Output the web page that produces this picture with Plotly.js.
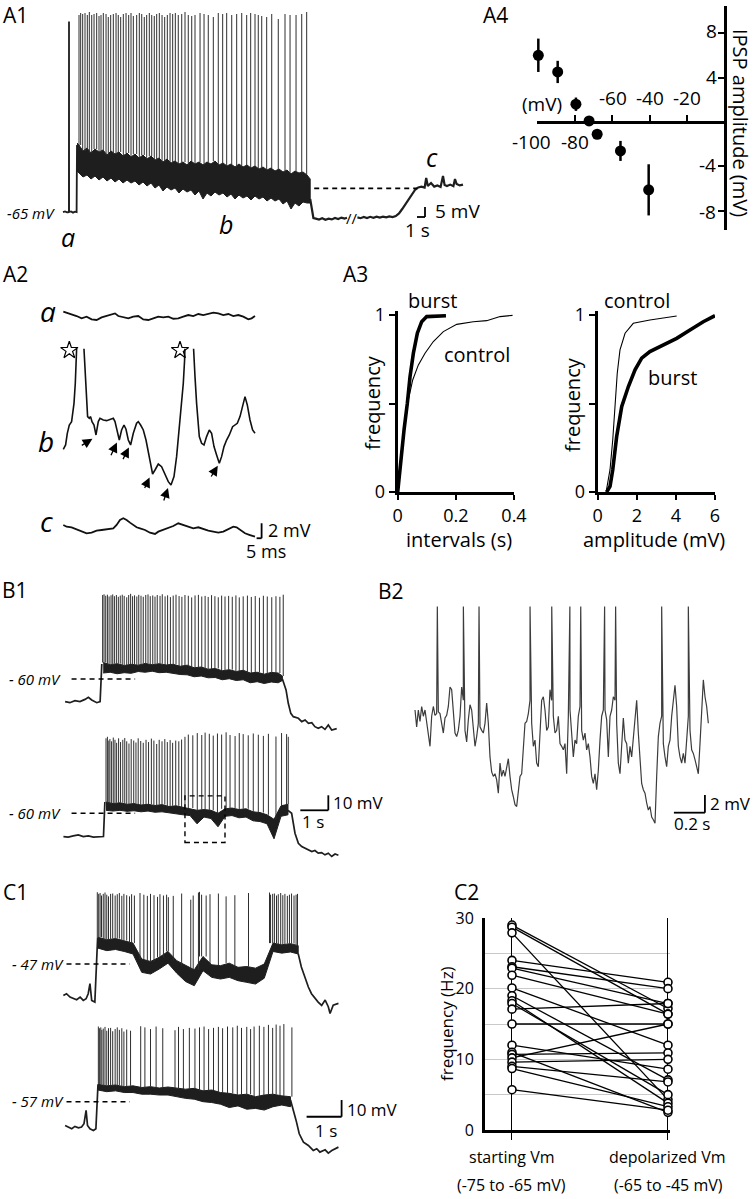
<!DOCTYPE html>
<html><head><meta charset="utf-8">
<script src="https://cdn.plot.ly/plotly-3.0.1.min.js"></script>
<style>html,body{margin:0;padding:0;background:#fff}</style>
</head><body><div id="fig" style="width:753px;height:1199px"></div>
<script>
// ================= DATA =================
// A1: whole-cell trace (time s, Vm mV)
const a1PreT=[0,0.25,0.5,0.74,0.75,0.76,1.0,1.25,1.5,1.7,1.75];
const a1PreV=[-64.6,-64.2,-64.7,-64.5,30.7,-64.5,-64.2,-64.8,-64.3,-64.5,-31];
const a1BandT=[1.75,2.0,2.5,3.0,3.5,4.0,4.5,5.0,5.5,6.0,6.5,7.0,7.5,8.0,8.5,9.0,9.5,10.0,10.5,11.0,11.5,12.0,12.5,13.0,13.5,14.0,14.5,15.0,15.5,16.0,16.5,17.0,17.5,18.0,18.5,19.0,19.5,20.0,20.5,21.0,21.5,22.0,22.5,23.0,23.5,24.0,24.5,25.0,25.5,26.0,26.5,27.0,27.5,28.0,28.5,29.0,29.5,30.0,30.5,30.9];
const a1BandUp=[-30,-31,-34,-32.5,-35,-33,-34.5,-33.5,-36,-34,-35.5,-34.5,-36.5,-35,-37,-35.5,-37.5,-36,-38,-36.5,-38.5,-37.5,-39.5,-38,-40,-39,-40.5,-39.5,-41,-39,-40.5,-39.5,-41,-39.5,-40.5,-39,-41,-40,-41.5,-40.5,-42,-40.5,-42,-41,-42.5,-41.5,-43,-42,-43.5,-42.5,-44,-43,-44.5,-43.5,-45.5,-44,-45,-44.5,-46,-48];
const a1BandLo=[-44,-45,-47,-46,-48,-46.5,-48.5,-47,-49,-47.5,-49.5,-48,-50,-48.5,-50,-49,-51,-49.5,-51.5,-50,-52.5,-51,-54,-52,-53.5,-52.5,-55,-53,-54.5,-53.5,-56,-54,-58,-55,-56.5,-54.5,-56,-55,-57,-55.5,-58,-56,-57.5,-56.5,-58.5,-56.5,-58,-57,-59,-57.5,-59,-58,-60.5,-59,-63,-60,-61.5,-59.5,-60,-60];
const a1PostT=[30.9,31.1,31.3,31.6,32.0,32.4,32.8,33.2,33.6,34.0,34.4,34.8,35.2,35.5,null,36.8,37.2,37.6,38.0,38.4,38.8,39.2,39.6,40.0,40.4,40.8,41.2,41.6,42.0,42.4,42.8,43.2,43.6,44.0,44.4,44.8,45.2,45.4,45.6,46.0,46.4,46.8,47.2,47.5,47.7,48.0,48.4,48.8,49.0,49.2,49.6,50.0];
const a1PostV=[-58,-64,-67.5,-67.8,-68.3,-67.6,-68.4,-67.8,-68.2,-67.5,-68,-67.3,-67.8,-67.4,null,-67.2,-67.6,-67,-67.5,-66.9,-67.4,-66.8,-67.3,-66.8,-67.2,-66.7,-67,-66.5,-65.2,-63,-60.5,-58,-55.5,-53.5,-52.2,-51.8,-52.3,-47.5,-51.5,-50,-51.8,-51.2,-52,-46.5,-51,-51.5,-50.8,-51.6,-48,-50.5,-51.2,-50.8];
const a1SpikeT=[2.0,2.21,2.46,2.75,3.04,3.29,3.59,3.88,4.21,4.5,4.75,5.04,5.38,5.66,5.96,6.29,6.63,6.91,7.21,7.54,7.88,8.21,8.5,8.79,9.21,9.54,9.84,10.16,10.46,10.79,11.09,11.41,11.71,12.04,12.38,12.71,13.04,13.38,13.71,14.04,14.41,14.84,15.25,15.66,16.09,16.5,17.13,17.63,18.16,18.79,19.41,19.96,20.46,21.09,21.71,22.34,22.96,23.46,24.0,24.41,24.84,25.46,26.09,26.91,27.75,28.38,29.13,29.84,30.46];
const a1SpikePk=[34,35,34.5,35,34,35.5,34,34.5,35,33.5,34,35,34.5,33,34,34.5,35,34,33,34.5,35,34,35,33.5,34,35,34.5,33,34,35,34,33.5,34.5,35,34,33,34,35,34.5,35,34,34.5,35.5,34,33.5,34,35,34.5,34,33,35,34.5,35,34,34.5,35,34,35,34.5,34,33.5,33,34.5,32,34.5,34,34,34.5,35.5];
const a1Dashed=-52.7;

// A4: IPSP amplitude vs holding potential
const a4Vm=[-99.3,-89,-79.3,-72.3,-68,-55.6,-40.6];
const a4Amp=[6.0,4.5,1.6,0.1,-1.1,-2.6,-6.1];
const a4Err=[1.5,1.0,0.6,0.3,0.4,0.9,2.3];
const a4XTicks=[-100,-80,-60,-40,-20];
const a4YTicks=[-8,-4,4,8];

// A2: expanded traces (time ms, mV relative)
const a2aT=[0,3.3,8.3,13.3,18.3,23.3,28.3,33.3,38.3,43.3,48.3,51.7,55,60,65,70,75,80,85,90,95,100,105,110,115,120,125,130,135,140,145,150,155,160,165,170,175,180,185,188.3,191.7];
const a2aV=[0.67,0.53,0.36,0.09,-0.22,0,-0.36,-0.44,-0.09,0.09,0.22,0.44,0.09,-0.09,-0.22,0,0.09,-0.36,-0.44,-0.22,0,-0.09,0,-0.27,-0.22,0,0.22,0.09,0.36,0.22,0.36,0.53,0.44,0.22,0.36,0.09,0.22,0,-0.36,-0.22,0.09];
const a2bT=[0,2.3,4,6,8.3,10.7,12,13.3,14.3,19.3,20.7,22.7,24.3,26,27.3,28.7,30.7,32.7,35,36.7,40,43.3,46.7,50,51.7,54,56,58.3,60.7,62.7,65,67.3,70,73.3,75,77.3,80,82.7,85,87.3,89.3,91.7,95,98.3,101.7,105,107.7,110.7,113.3,116,118.3,120,121.3,122.3,129,130,131.7,133.3,136,138.3,140.7,143.3,146,148.3,150.7,153.3,156,158.3,160.7,163.3,166,169.3,171.7,174,176.7,179.3,181.7,184,186.7,189.3,191.7];
const a2bV=[0,0.58,2.13,3.24,3.69,6.13,8.8,12.36,16.8,16.8,13.24,7.91,4.36,4.13,4.36,3.69,3.24,1.91,3.69,4.13,3.91,3.82,4.0,4.13,3.69,2.13,1.24,2.58,3.24,2.67,1.24,0.58,2.13,3.47,3.69,3.24,2.58,1.24,-0.53,-2.31,-3.29,-2.76,-1.96,-2.31,-3.42,-4.31,-4.76,-3.64,-0.98,2.58,5.69,8.8,11.91,16.8,16.8,13.24,9.69,6.13,1.69,0.8,0.58,1.69,2.58,2.13,0.36,-0.76,-1.87,-0.98,0.36,1.24,1.91,3.02,3.24,3.47,4.36,5.69,7.02,5.91,3.91,2.58,2.13];
const a2cT=[0,3.3,8.3,13.3,18.3,23.3,28.3,33.3,38.3,43.3,50,53.3,56.7,60,63.3,66.7,70,73.3,76.7,81.7,86.7,91.7,95,100,105,110,115,120,125,130,135,140,145,150,155,160,165,170,173.3,176.7,181.7,186.7,191.7];
const a2cV=[0.67,0.44,0.36,0.09,-0.22,-0.44,-0.36,-0.09,0,0.09,0.22,0.67,1.33,1.56,1.33,0.98,0.67,0.36,0.22,0,-0.36,-0.53,-0.22,0,0.31,0.53,0.89,0.67,0.44,0.22,0.36,0.09,-0.09,-0.22,-0.36,-0.22,0.09,0.44,0.36,0,-0.44,-0.67,-0.89];
const a2StarT=[6,116.7];
const a2StarV=[13.2,13.2];
const a2ArrowT=[30,54,66,86.7,105,155];
const a2ArrowV=[1.47,1.02,0.36,-3.64,-5.02,-2.09];

// A3: cumulative distributions
const a3IntBurstX=[0,0.0115,0.0218,0.0332,0.0424,0.0539,0.0676,0.0825,0.0997,0.166];
const a3IntBurstY=[0,0.201,0.351,0.502,0.652,0.784,0.897,0.962,0.991,0.996];
const a3IntCtrlX=[0,0.0138,0.0252,0.0367,0.0516,0.0711,0.094,0.1226,0.157,0.203,0.260,0.306,0.352,0.395];
const a3IntCtrlY=[0,0.239,0.389,0.521,0.633,0.718,0.784,0.850,0.906,0.947,0.962,0.968,0.991,0.998];
const a3AmpCtrlX=[0.43,0.63,0.77,0.89,1.0,1.14,1.40,1.82,2.67,4.04];
const a3AmpCtrlY=[0,0.126,0.295,0.483,0.671,0.803,0.897,0.953,0.972,0.994];
const a3AmpBurstX=[0.46,0.63,0.77,0.97,1.23,1.57,1.91,2.25,2.67,3.36,4.04,4.72,5.40,6.0];
const a3AmpBurstY=[0,0.032,0.126,0.314,0.483,0.596,0.690,0.756,0.793,0.831,0.868,0.915,0.962,0.996];

// B1: two traces (time s, mV)
const b1aPreT=[0.04,0.21,0.39,0.57,0.75,0.87,0.99,1.17,1.29,1.35];
const b1aPreV=[-75.1,-75.8,-74.4,-75.1,-73.6,-72.2,-74,-75.8,-75.1,-50];
const b1aBandT=[1.4,1.65,1.9,2.15,2.4,2.65,2.9,3.15,3.4,3.65,3.9,4.15,4.4,4.65,4.9,5.15,5.4,5.65,5.9,6.15,6.4,6.65,6.9,7.15,7.4,7.65,7.8];
const b1aBandUp=[-49,-50.5,-49.8,-51,-50.2,-50.8,-49.6,-50.5,-49.8,-50.6,-50.2,-51.5,-50.8,-52.5,-52,-53.5,-53,-54.5,-53.8,-55,-54.2,-56,-55.5,-56.8,-55.6,-56,-58];
const b1aBandLo=[-56,-55.5,-56.5,-55.8,-56.2,-55,-55.5,-54.8,-55.8,-55.5,-56.5,-57,-57.2,-58.5,-58,-59.2,-59,-60.5,-59.8,-61,-60.5,-62.5,-61.8,-63,-62,-62.5,-61];
const b1aPostT=[7.8,7.93,8.01,8.1,8.19,8.37,8.49,8.61,8.73,8.85,8.96,9.08,9.2,9.32,9.44,9.56,9.74];
const b1aPostV=[-60,-67.3,-76.2,-82.9,-85.1,-86.2,-88.4,-87.3,-89.6,-89.1,-91.8,-92.9,-91.8,-93.6,-90.7,-94,-93.1];
const b1aSpikeT=[1.38,1.43,1.49,1.55,1.61,1.68,1.74,1.80,1.87,1.94,2.01,2.08,2.15,2.24,2.31,2.38,2.45,2.52,2.60,2.67,2.75,2.83,2.92,3.0,3.08,3.17,3.25,3.33,3.43,3.51,3.61,3.70,3.80,3.90,4.0,4.11,4.21,4.32,4.44,4.56,4.68,4.80,4.92,5.04,5.15,5.27,5.39,5.51,5.63,5.75,5.88,6.01,6.14,6.26,6.40,6.55,6.69,6.83,6.98,7.12,7.26,7.42,7.57,7.71,7.83];
const b1aSpikePk=[-4,-3.5,-4.5,-3.8,-5,-4.2,-3.6,-4.8,-4,-5.2,-4.4,-3.8,-4.6,-5.5,-4,-3.2,-4.8,-4.2,-5,-3.9,-4.5,-5.2,-4,-3.6,-4.8,-4.3,-5.1,-4,-4.6,-3.5,-4.9,-4.2,-5.4,-4.4,-3.8,-4.7,-5.2,-4,-4.5,-5.6,-4.3,-3.9,-5,-4.6,-5.3,-4.1,-4.8,-5.5,-4.4,-5,-4.6,-5.2,-4.3,-5.6,-4.9,-4.4,-5.3,-4.7,-5.8,-4.5,-5,-5.5,-4.8,-5.2,-3.8];
const b1bPreT=[-0.02,0.15,0.33,0.51,0.69,0.87,1.05,1.23,1.41,1.46];
const b1bPreV=[-75.5,-75.9,-75.1,-74.4,-75.5,-75.1,-75.9,-75.5,-75.5,-52.5];
const b1bBandT=[1.5,1.75,2.0,2.25,2.5,2.75,3.0,3.25,3.5,3.75,4.0,4.25,4.5,4.75,5.0,5.25,5.5,5.75,6.0,6.25,6.5,6.75,7.0,7.25,7.5,7.75,8.0];
const b1bBandUp=[-52.5,-53.5,-53,-54,-53.5,-54.5,-54,-54.8,-54.2,-55.5,-55,-56,-56.5,-58,-57.5,-58,-60,-57,-56.5,-57.5,-57,-59,-59.5,-61,-64,-55,-54];
const b1bBandLo=[-58,-58.5,-58,-58.7,-58.3,-59,-58.5,-59.3,-59,-60,-60.3,-61,-61.5,-67,-62.5,-63.5,-69,-62,-61.5,-63,-62.5,-65,-65.5,-67,-77,-62,-61];
const b1bPostT=[8.0,8.13,8.25,8.37,8.49,8.61,8.73,8.85,8.96,9.08,9.2,9.32,9.44,9.56,9.68,9.8];
const b1bPostV=[-58,-60,-73.3,-80,-82.2,-83.3,-84.4,-85.5,-84.8,-86.6,-86.2,-87.7,-86.6,-88.8,-87.1,-88];
const b1bSpikeT=[1.5,1.55,1.6,1.64,1.70,1.76,1.82,1.88,1.95,2.02,2.10,2.17,2.24,2.32,2.40,2.49,2.57,2.65,2.74,2.83,2.93,3.02,3.12,3.21,3.31,3.40,3.50,3.60,3.69,3.79,3.88,3.99,4.10,4.20,4.32,4.44,4.60,4.76,4.92,5.04,5.19,5.33,5.48,5.63,5.79,5.93,6.11,6.26,6.40,6.58,6.76,6.94,7.12,7.30,7.57,7.77,7.95,8.01];
const b1bSpikePk=[-10,-9,-11.5,-10.5,-12,-9.5,-11,-13,-10,-12.5,-11,-9.8,-12,-13.5,-10.5,-11.5,-12.8,-10,-11.8,-13,-11,-12.5,-10.2,-11.5,-13.8,-11,-12,-10.5,-12.5,-11.2,-13,-11.5,-12,-10.8,-9,-7.5,-8,-6.5,-7.8,-6.2,-7,-8.2,-6.8,-7.5,-6,-7.8,-8.5,-6.5,-7.2,-8,-6.8,-7.6,-8.4,-7,-8.8,-6.5,-7.2,-9];
const b1Rest=-60;
const b1Box={t0:4.32,t1:5.75,v0:-79.5,v1:-48.4};

// B2: expanded segment (samples every 10.75 ms, mV relative)
const b2Dt=10.75;
const b2V=[1.5,-0.4,1.5,0.2,1.9,0.8,1.5,0,-1.5,-2.6,
0.8,1.9,0.9,1.1,1.3,1.1,0,-1.1,0.6,0.9,
1.9,4.1,3.8,1.1,-1.1,-1.5,-0.8,0.8,4.1,2.6,
-0.8,-2.1,0.4,2.1,1.5,-0.4,-2.6,-1.5,0,-0.4,
-0.8,-1.1,0,2.3,0,-3.8,-5.5,-6.0,-5.7,-6.4,
-7.9,-4.5,-6.0,-5.3,-6.0,-4.9,-4.0,-6.0,-7.5,-8.3,
-9.2,-9.4,-7.5,-6.0,-5.7,-3.0,0,0.2,1.1,2.6,
0,-2.6,-1.9,-4.5,-4.9,-1.1,2.6,3.0,1.5,-0.8,
-0.4,3.8,2.6,0.8,-1.1,-0.8,0.8,-2.3,-2.6,-3.0,
-2.3,-5.7,0.8,1.5,-0.8,-3.8,-1.9,-2.3,0.8,1.9,
-0.8,-1.9,-1.1,-3.0,-2.3,-3.8,-6.0,-6.8,-5.7,-7.5,
-5.3,-1.9,0.8,1.5,1.5,0.4,-3.8,0.8,1.5,3.0,
2.6,0,-4.5,-5.7,-2.3,0.6,-1.9,-2.3,-4.5,-2.6,
-3.8,-1.9,0,2.6,-1.1,-4.5,-6.8,-7.5,-7.9,-9.0,
-9.8,-9.4,-10.6,-10.9,-11.3,-6.0,-1.5,0,0.8,-2.3,
-3.8,-4.9,-2.6,-1.9,0.8,3.0,4.3,1.9,-2.6,-3.8,
-4.5,-3.4,-4.5,-1.9,0.8,-0.8,-3.0,-3.4,-4.1,-4.9,
-5.7,-2.3,2.3,4.9,3.0,1.9,0];
const b2SpikeT=[144,312,413,742,882,999,1069,1223,1294,1591,1763];
const b2SpikePk=[13.2,13.2,13.2,13.2,13.2,13.2,13.2,13.2,13.2,13.2,13.2];

// C1: two traces (time s, mV)
const c1aPreT=[0.01,0.10,0.2,0.3,0.39,0.49,0.58,0.66,0.72,0.77,0.82,0.91,0.96,0.99];
const c1aPreV=[-65.8,-64.8,-66.8,-67.8,-68.4,-66.8,-68.8,-67.8,-64.8,-58.8,-68.8,-69.8,-50,-31];
const c1aBandT=[1.0,1.25,1.5,1.75,2.0,2.25,2.5,2.75,3.0,3.25,3.5,3.75,4.0,4.25,4.5,4.75,5.0,5.25,5.5,5.75,6.0,6.25,6.5,6.72];
const c1aBandUp=[-31,-32.5,-31.8,-33,-34.5,-44,-45.5,-43,-39.5,-45,-48,-50.5,-42.5,-47.5,-48,-46.5,-49,-48.5,-49.5,-47,-34.5,-35.5,-34.8,-36];
const c1aBandLo=[-37.5,-39,-38.3,-39.5,-41,-52,-53,-50,-46.5,-52.5,-57.5,-60,-51,-55,-56,-55,-57,-58,-59,-55.5,-39.5,-40.5,-39.8,-41];
const c1aPostT=[6.72,6.81,6.91,7.01,7.1,7.2,7.29,7.39,7.49,7.58,7.63,7.72,7.87];
const c1aPostV=[-40.8,-48.8,-54.8,-60.8,-64.8,-67.8,-69.8,-71.8,-68.6,-72.6,-76.6,-71.6,-70.6];
const c1aSpikeT=[0.98,1.02,1.06,1.10,1.15,1.2,1.25,1.30,1.36,1.42,1.49,1.55,1.61,1.68,1.74,1.82,1.90,1.96,2.04,2.2,2.31,2.41,2.5,2.6,2.7,2.77,2.87,2.96,3.01,3.15,3.39,3.65,3.72,3.87,3.9,3.96,4.09,4.2,4.44,4.66,4.91,5.3,5.9,5.93,5.99,6.04,6.1,6.15,6.22,6.28,6.34,6.41,6.47,6.53,6.6,6.66,6.7];
const c1aSpikePk=[-4,-5,-4.5,-6,-5,-4.2,-5.5,-6.5,-5,-4.8,-6,-5.2,-4.5,-6.2,-5,-5.8,-6.5,-5.2,-6,-4.5,-5.5,-6.2,-5,-5.8,-6.8,-5.2,-6,-5.5,-7,-6.2,-4.8,-8.5,-6,-4.2,-3.8,-5.5,-6,-5.2,-4.8,-6.5,-5.8,-4.5,-4.2,-5.5,-5,-4.8,-6,-5.2,-4.5,-5.8,-5,-6.2,-5.5,-4.8,-6,-5.5,-5];
const c1bPreT=[0.06,0.15,0.25,0.34,0.44,0.53,0.6,0.66,0.7,0.77,0.87,0.94,0.98,1.0];
const c1bPreV=[-71.2,-72.2,-73.2,-71.8,-72.6,-72.2,-70.2,-62.2,-71.2,-73.2,-74.2,-73.2,-52,-46.5];
const c1bBandT=[1.0,1.25,1.5,1.75,2.0,2.25,2.5,2.75,3.0,3.25,3.5,3.75,4.0,4.25,4.5,4.75,5.0,5.25,5.5,5.75,6.0,6.25,6.5];
const c1bBandUp=[-46.5,-47.5,-47,-48,-47.5,-48.5,-48,-48.8,-48.2,-49,-49.5,-49,-50.5,-50,-51.5,-52,-53,-52.5,-54,-53,-52.5,-53.5,-54];
const c1bBandLo=[-50,-51,-50.5,-51.5,-51.5,-52.5,-52.5,-53,-53,-54,-55,-55.5,-57,-57.5,-58.5,-60.5,-59.5,-61.5,-61,-62,-60,-59,-60];
const c1bPostT=[6.5,6.56,6.66,6.75,6.87,7.01,7.15,7.25,7.34,7.49,7.58,7.68,7.77,7.87];
const c1bPostV=[-56,-60.2,-68.2,-76.2,-81.2,-83.2,-86.2,-85.2,-87.2,-85.8,-87.8,-86.2,-85.2,-84.2];
const c1bSpikeT=[1.01,1.04,1.08,1.11,1.15,1.2,1.25,1.30,1.36,1.42,1.49,1.55,1.61,1.68,1.74,1.82,1.93,2.22,2.34,2.5,2.66,2.85,3.2,3.3,3.44,3.61,3.77,3.9,4.03,4.16,4.3,4.44,4.56,4.7,4.85,4.98,5.1,5.25,5.36,5.46,5.61,5.74,5.87,5.99,6.09,6.2,6.31,6.54];
const c1bSpikePk=[-12,-13,-12.5,-14,-13.2,-12.2,-14.5,-13,-12.8,-14.8,-13.5,-12.5,-14,-13,-15,-13.8,-14.5,-11.8,-12.5,-13.5,-12,-13,-14.2,-12.2,-13.5,-12.8,-13.2,-12.5,-12,-13.5,-12.8,-12.2,-13,-12,-12.5,-11.5,-12.8,-12.2,-13.5,-12,-11.5,-12.2,-11,-12.8,-10.8,-11.5,-10.5,-12.5];

// C2: firing frequency, paired
const c2Cats=['starting Vm','depolarized Vm'];
const c2Ranges=['(-75 to -65 mV)','(-65 to -45 mV)'];
const c2Start=[29.0,28.7,27.9,24.0,23.1,22.9,21.9,20.1,19.0,18.3,17.9,17.1,15.0,12.0,11.0,10.7,10.2,9.6,9.0,8.7,5.7];
const c2End=[17.2,16.4,4.3,20.9,20.0,17.9,16.4,12.0,7.1,3.8,5.0,17.9,15.0,8.6,2.5,10.9,15.0,10.0,6.8,3.3,2.8];

// ================= DRAWING =================
const W=753,H=1199;
const PX=x=>x/W, PY=y=>1-y/H;
const FONT='"Open Sans", "Noto Sans", sans-serif';
function xr(d0,d1,p0,v0,s){return [v0+(d0-p0)/s, v0+(d1-p0)/s];}
function yr(d0,d1,p0,v0,s){return [v0-(d1-p0)/s, v0+(p0-d0)/s];}
const layout={width:W,height:H,margin:{l:0,r:0,t:0,b:0},paper_bgcolor:'#fff',plot_bgcolor:'rgba(0,0,0,0)',showlegend:false,annotations:[],shapes:[],hovermode:false};
const traces=[];
let axN=0;
function nextAx(){axN++;const n=axN===1?'':String(axN);return n;}
function hiddenPanel(dx0,dx1,px0,tv0,sx,dy0,dy1,py0,vv0,sy){
  const n=nextAx();
  layout['xaxis'+n]={domain:[PX(dx0),PX(dx1)],range:xr(dx0,dx1,px0,tv0,sx),visible:false,anchor:'y'+n,fixedrange:true};
  layout['yaxis'+n]={domain:[PY(dy1),PY(dy0)],range:yr(dy0,dy1,py0,vv0,sy),visible:false,anchor:'x'+n,fixedrange:true};
  return {x:'x'+n,y:'y'+n,n:n};
}
function line(ax,x,y,color,width,extra){traces.push(Object.assign({type:'scatter',mode:'lines',x:x,y:y,xaxis:ax.x,yaxis:ax.y,line:{color:color,width:width},hoverinfo:'skip'},extra||{}));}
function band(ax,t,up,lo,color){
  const x=t.concat(t.slice().reverse()), y=up.concat(lo.slice().reverse());
  traces.push({type:'scatter',mode:'lines',x:x,y:y,xaxis:ax.x,yaxis:ax.y,fill:'toself',fillcolor:color,line:{color:color,width:1},hoverinfo:'skip'});
}
function spikes(ax,times,peaks,bt,bup,color,width){
  const x=[],y=[];
  times.forEach((t,i)=>{let k=0,b=Infinity;bt.forEach((v,j)=>{const d=Math.abs(v-t);if(d<b){b=d;k=j;}});x.push(t,t,null);y.push(bup[k],peaks[i],null);});
  line(ax,x,y,color,width);
}
function seg(ax,x0,y0,x1,y1,w,dash){layout.shapes.push({type:'line',xref:ax.x,yref:ax.y,x0:x0,y0:y0,x1:x1,y1:y1,line:{color:'#000',width:w||1.6,dash:dash||'solid'}});}
function scaleBar(ax,tEnd,vBot,dt,dv){seg(ax,tEnd-dt,vBot,tEnd,vBot,1.8);seg(ax,tEnd,vBot,tEnd,vBot+dv,1.8);}
function txt(text,x,y,size,opts){layout.annotations.push(Object.assign({text:text,x:PX(x),y:PY(y),xref:'paper',yref:'paper',showarrow:false,font:{family:FONT,size:size,color:'#000'},xanchor:'center',yanchor:'middle'},opts||{}));}
const DASH='5px,4px';
const TRC='#1e1e1e', SPK='#2e2e2e';

// ---- A1 ----
const A1=hiddenPanel(60,470,63,0,8, 8,232,213,-65,2);
band(A1,a1BandT,a1BandUp,a1BandLo,TRC);
spikes(A1,a1SpikeT,a1SpikePk,a1BandT,a1BandUp,SPK,1);
line(A1,a1PreT,a1PreV,TRC,1.8);
line(A1,a1PostT,a1PostV,TRC,2.2);
seg(A1,31.4,a1Dashed,44.3,a1Dashed,1.6,DASH);
scaleBar(A1,45.25,-67,1,5);
layout.annotations.push({text:'//',x:36.1,y:-67.3,xref:A1.x,yref:A1.y,showarrow:false,font:{family:FONT,size:15,color:'#000'}});

// ---- A2 ----
const A2a=hiddenPanel(58,335,63.3,0,1, 295,340,316.7,0,7.5);
const A2b=hiddenPanel(58,335,63.3,0,1, 348.8,494,449.3,0,7.5);
const A2c=hiddenPanel(58,335,63.3,0,1, 508,552,530,0,7.5);
line(A2a,a2aT,a2aV,'#111',1.8);
line(A2b,a2bT,a2bV,'#111',1.6);
line(A2c,a2cT,a2cV,'#111',1.8);
traces.push({type:'scatter',mode:'markers',x:a2StarT,y:a2StarV,xaxis:A2b.x,yaxis:A2b.y,cliponaxis:false,marker:{symbol:'star-open',size:13,color:'#000',line:{width:1.2,color:'#000'}},hoverinfo:'skip'});
const a2ArrowOff=[[-13,8],[-7,15],[-7,14],[-6,13],[-5,15],[-8,13]];
a2ArrowT.forEach((t,i)=>{layout.annotations.push({x:t,y:a2ArrowV[i],xref:A2b.x,yref:A2b.y,text:'',showarrow:true,ax:a2ArrowOff[i][0],ay:a2ArrowOff[i][1],arrowhead:2,arrowsize:1.5,arrowwidth:1.3,arrowcolor:'#000',standoff:1});});
scaleBar(A2c,198.3,-1.1,5,2);

// ---- B1 ----
const B1a=hiddenPanel(60,345,64,0,28, 588,735,679,-60,1.5);
const B1b=hiddenPanel(60,345,64,0,28, 730,862,813.3,-60,1.5);
band(B1a,b1aBandT,b1aBandUp,b1aBandLo,TRC);
spikes(B1a,b1aSpikeT,b1aSpikePk,b1aBandT,b1aBandUp,SPK,1);
line(B1a,b1aPreT,b1aPreV,TRC,1.7);
line(B1a,b1aPostT,b1aPostV,TRC,1.7);
band(B1b,b1bBandT,b1bBandUp,b1bBandLo,TRC);
spikes(B1b,b1bSpikeT,b1bSpikePk,b1bBandT,b1bBandUp,SPK,1);
line(B1b,b1bPreT,b1bPreV,TRC,1.7);
line(B1b,b1bPostT,b1bPostV,TRC,1.7);
seg(B1a,0.27,b1Rest,2.54,b1Rest,1.4,DASH);
seg(B1b,0.27,b1Rest,2.54,b1Rest,1.4,DASH);
layout.shapes.push({type:'rect',xref:B1b.x,yref:B1b.y,x0:b1Box.t0,x1:b1Box.t1,y0:b1Box.v0,y1:b1Box.v1,line:{color:'#000',width:1.4,dash:DASH}});
scaleBar(B1b,9.44,-58,1,10);

// ---- B2 ----
const B2=hiddenPanel(410,718,415,0,1/6.45, 600,830,723.3,0,8.85);
(function(){
  const pts=b2V.map((v,i)=>[i*b2Dt,v]);
  b2SpikeT.forEach((t,i)=>pts.push([t,b2SpikePk[i]]));
  pts.sort((a,b)=>a[0]-b[0]);
  line(B2,pts.map(p=>p[0]),pts.map(p=>p[1]),'#3c3c3c',1.2);
})();
scaleBar(B2,1870,-10.1,200,2);

// ---- C1 ----
const C1a=hiddenPanel(60,350,63,0,35, 885,1015,964,-47,1.67);
const C1b=hiddenPanel(60,350,63,0,35, 1020,1160,1101.7,-57,1.67);
band(C1a,c1aBandT,c1aBandUp,c1aBandLo,TRC);
spikes(C1a,c1aSpikeT,c1aSpikePk,c1aBandT,c1aBandUp,SPK,1);
line(C1a,c1aPreT,c1aPreV,TRC,1.7);
line(C1a,c1aPostT,c1aPostV,TRC,1.7);
band(C1b,c1bBandT,c1bBandUp,c1bBandLo,TRC);
spikes(C1b,c1bSpikeT,c1bSpikePk,c1bBandT,c1bBandUp,SPK,1);
line(C1b,c1bPreT,c1bPreV,TRC,1.7);
line(C1b,c1bPostT,c1bPostV,TRC,1.7);
seg(C1a,0.1,-47,1.91,-47,1.4,DASH);
seg(C1b,0.1,-57,1.91,-57,1.4,DASH);
scaleBar(C1b,7.96,-66,1,10);

// ---- A3 (visible axes) ----
function a3Axes(x0,x1,xrange,xt,xtt){
  const n=nextAx();
  layout['xaxis'+n]={domain:[PX(x0),PX(x1)],range:xrange,anchor:'y'+n,showline:true,linewidth:3,linecolor:'#000',ticks:'outside',ticklen:5,tickwidth:2,tickcolor:'#000',tickvals:xt,ticktext:xtt,tickfont:{family:FONT,size:18,color:'#000'},showgrid:false,zeroline:false,fixedrange:true};
  layout['yaxis'+n]={domain:[PY(492),PY(311)],range:[0,1.0226],anchor:'x'+n,showline:true,linewidth:3,linecolor:'#000',ticks:'outside',ticklen:6,tickwidth:2,tickcolor:'#000',tickvals:[0,0.5,1],ticktext:['0','','1'],tickfont:{family:FONT,size:18,color:'#000'},showgrid:false,zeroline:false,fixedrange:true};
  return {x:'x'+n,y:'y'+n};
}
const A3L=a3Axes(397.7,514,[0,0.4],[0,0.2,0.4],['0','0.2','0.4']);
const A3R=a3Axes(597.7,715,[0,6],[0,2,4,6],['0','2','4','6']);
line(A3L,a3IntCtrlX,a3IntCtrlY,'#000',1.1);
line(A3L,a3IntBurstX,a3IntBurstY,'#000',3.6);
line(A3R,a3AmpCtrlX,a3AmpCtrlY,'#000',1.1);
line(A3R,a3AmpBurstX,a3AmpBurstY,'#000',3.6);

// ---- A4 ----
(function(){
  const n=nextAx();
  layout['xaxis'+n]={domain:[PX(537),PX(725)],range:[-100,0],anchor:'free',position:PY(122),showline:true,linewidth:2.5,linecolor:'#000',ticks:'inside',ticklen:6,tickwidth:2,tickcolor:'#000',tickvals:a4XTicks,showticklabels:false,showgrid:false,zeroline:false,fixedrange:true};
  layout['yaxis'+n]={domain:[PY(230),PY(6)],range:[-9.71,10.43],anchor:'free',position:PX(725),side:'right',showline:true,linewidth:2.5,linecolor:'#000',ticks:'inside',ticklen:6,tickwidth:2,tickcolor:'#000',tickvals:a4YTicks,showticklabels:false,showgrid:false,zeroline:false,fixedrange:true};
  traces.push({type:'scatter',mode:'markers',x:a4Vm,y:a4Amp,xaxis:'x'+n,yaxis:'y'+n,cliponaxis:false,marker:{size:11,color:'#000'},error_y:{type:'data',array:a4Err,visible:true,color:'#000',thickness:2.5,width:0},hoverinfo:'skip'});
})();

// ---- C2 ----
(function(){
  const n=nextAx();
  layout['xaxis'+n]={domain:[PX(485),PX(670)],range:[-0.173,1.013],anchor:'y'+n,showline:true,linewidth:3,linecolor:'#000',tickvals:[0,1],ticks:'outside',ticklen:7,tickwidth:1,tickcolor:'#000',showticklabels:false,showgrid:true,gridcolor:'#000',gridwidth:1,zeroline:false,fixedrange:true};
  layout['yaxis'+n]={domain:[PY(1130),PY(918)],range:[0,30],anchor:'x'+n,showline:true,linewidth:3,linecolor:'#000',tickvals:[0,10,20,30],ticks:'',tickfont:{family:FONT,size:16,color:'#000'},ticklabelstandoff:5,showgrid:true,gridcolor:'#c9c9c9',gridwidth:1,minor:{tickvals:[5,15,25],showgrid:true,gridcolor:'#c9c9c9',gridwidth:1,ticks:''},zeroline:false,fixedrange:true};
  const lx=[],ly=[];
  c2Start.forEach((s,i)=>{lx.push(0,1,null);ly.push(s,c2End[i],null);});
  traces.push({type:'scatter',mode:'lines',x:lx,y:ly,xaxis:'x'+n,yaxis:'y'+n,line:{color:'#000',width:1.3},hoverinfo:'skip'});
  traces.push({type:'scatter',mode:'markers',x:c2Start.map(()=>0).concat(c2End.map(()=>1)),y:c2Start.concat(c2End),xaxis:'x'+n,yaxis:'y'+n,cliponaxis:false,marker:{symbol:'circle',size:8,color:'#fff',line:{color:'#000',width:1.6}},hoverinfo:'skip'});
})();

// ---- Texts ----
const PL=21;
txt('A1',15,15,PL);txt('A2',16,274,PL);txt('A3',355,274,PL);txt('A4',495,15,PL);
txt('B1',15,590,PL);txt('B2',391,591,PL);txt('C1',16,892,PL);txt('C2',466,892,PL);
// A1
txt('<i>-65 mV</i>',57,213,15,{xanchor:'right'});
txt('<i>a</i>',68,237,25);txt('<i>b</i>',226,224,25);txt('<i>c</i>',432,157,25);
txt('5 mV',433,211,19,{xanchor:'left'});txt('1 s',418,230,19);
// A4
txt('(mV)',542,104,19);
txt('-100',531,142,19);txt('-80',575,142,19);txt('-60',613,98,19);txt('-40',650,98,19);txt('-20',687,98,19);
txt('8',719,31,19,{xanchor:'right'});txt('4',719,77,19,{xanchor:'right'});txt('-4',718,165,19,{xanchor:'right'});txt('-8',718,212,19,{xanchor:'right'});
txt('IPSP amplitude (mV)',741,123,20,{textangle:90});
// A2
txt('<i>a</i>',48,311,28);txt('<i>b</i>',46,441,28);txt('<i>c</i>',46,521,28);
txt('2 mV',266,530,18,{xanchor:'left'});txt('5 ms',266,551,18);
// A3
txt('burst',432,300,20);txt('control',477,355,20);
txt('frequency',372,403,20,{textangle:-90});txt('intervals (s)',459,540,20);
txt('control',637,300,20);txt('burst',672,377,20);
txt('frequency',572,405,20,{textangle:-90});txt('amplitude (mV)',654,540,20);
// B1 / B2
txt('<i>- 60 mV</i>',63,679,15,{xanchor:'right'});txt('<i>- 60 mV</i>',63,813,15,{xanchor:'right'});
txt('10 mV',331,802,17,{xanchor:'left'});txt('1 s',313,821,17);
txt('2 mV',708,803,17,{xanchor:'left'});txt('0.2 s',692,823,17);
// C1
txt('<i>- 47 mV</i>',66,964,15,{xanchor:'right'});txt('<i>- 57 mV</i>',66,1101,15,{xanchor:'right'});
txt('10 mV',345,1109,17,{xanchor:'left'});txt('1 s',326,1130,17);
// C2
txt('frequency (Hz)',446,1024,17,{textangle:-90});
txt(c2Cats[0],512,1157,16);txt(c2Ranges[0],512,1185,16);
txt(c2Cats[1],667,1157,16);txt(c2Ranges[1],668,1185,16);

Plotly.newPlot('fig',traces,layout,{staticPlot:true,displayModeBar:false});
</script></body></html>
